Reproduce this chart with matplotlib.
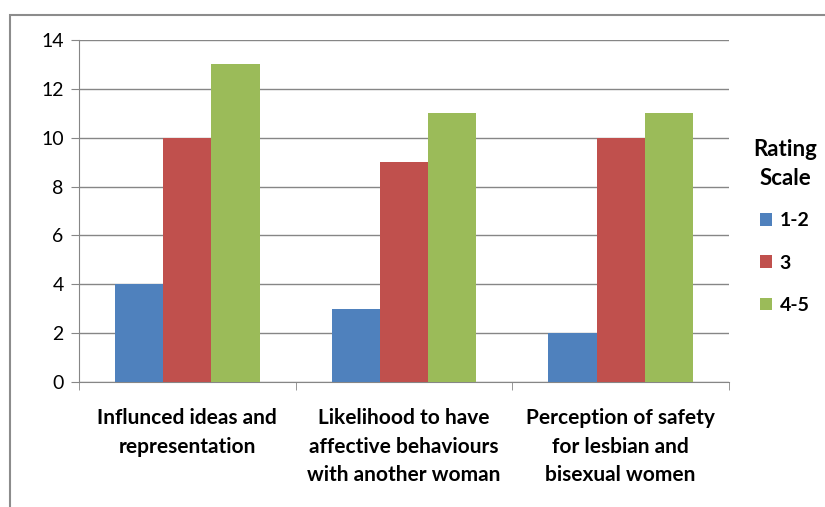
import matplotlib
matplotlib.use("Agg")
import matplotlib.pyplot as plt
from matplotlib.patches import Rectangle
import numpy as np

categories = ["Influnced ideas and\nrepresentation",
              "Likelihood to have\naffective behaviours\nwith another woman",
              "Perception of safety\nfor lesbian and\nbisexual women"]
series_names = ["1-2", "3", "4-5"]
values_12 = [4, 3, 2]
values_3 = [10, 9, 10]
values_45 = [13, 11, 11]
colors = ["#4F81BD", "#C0504D", "#9BBB59"]
yticks = [0, 2, 4, 6, 8, 10, 12, 14]

plt.rcParams['font.family'] = ['Lato', 'DejaVu Sans']

fig = plt.figure(figsize=(8.25, 5.07), dpi=100)
# outer chart frame
fig.patches.append(Rectangle((10/825, -0.1), 1.2, 1.1 - 15/507,
                             transform=fig.transFigure, fill=False,
                             edgecolor="#8C8C8C", linewidth=1.5))
ax = fig.add_axes([79/825, 1 - 382/507, (729 - 79)/825, (382 - 40)/507])

x = np.arange(len(categories))
w = 1 / 4.5
for i, (vals, name) in enumerate(zip([values_12, values_3, values_45], series_names)):
    ax.bar(x + (i - 1) * w, vals, width=w, color=colors[i], label=name, zorder=3)

ax.set_xlim(-0.5, len(categories) - 0.5)
ax.set_ylim(0, 14)
ax.set_yticks(yticks)
ax.set_yticklabels([str(t) for t in yticks], fontsize=14)
ax.yaxis.grid(True, color="#868686", linewidth=1, zorder=0)
ax.set_xticks(x)
ax.set_xticklabels(categories, fontsize=15, fontweight="bold", linespacing=1.52)
ax.set_xticks(np.arange(len(categories) + 1) - 0.5, minor=True)
ax.tick_params(axis="x", which="major", length=0, pad=19)
ax.tick_params(axis="x", which="minor", length=6, color="#868686")
ax.tick_params(axis="y", length=6, color="#868686", pad=5)
for s in ["top", "right"]:
    ax.spines[s].set_visible(False)
for s in ["left", "bottom"]:
    ax.spines[s].set_color("#868686")

leg = ax.legend(title="Rating\nScale", loc="center left", bbox_to_anchor=(1.01, 0.455),
                frameon=False, fontsize=14, handlelength=0.6, handleheight=0.6,
                labelspacing=1.3, handletextpad=0.4,
                title_fontproperties={"size": 16, "weight": "bold"})
for t in leg.get_texts():
    t.set_fontweight("bold")
leg.get_title().set_multialignment("center")
leg.get_title().set_linespacing(1.45)
leg._legend_box.sep = 17

fig.savefig("out.png", dpi=100)
